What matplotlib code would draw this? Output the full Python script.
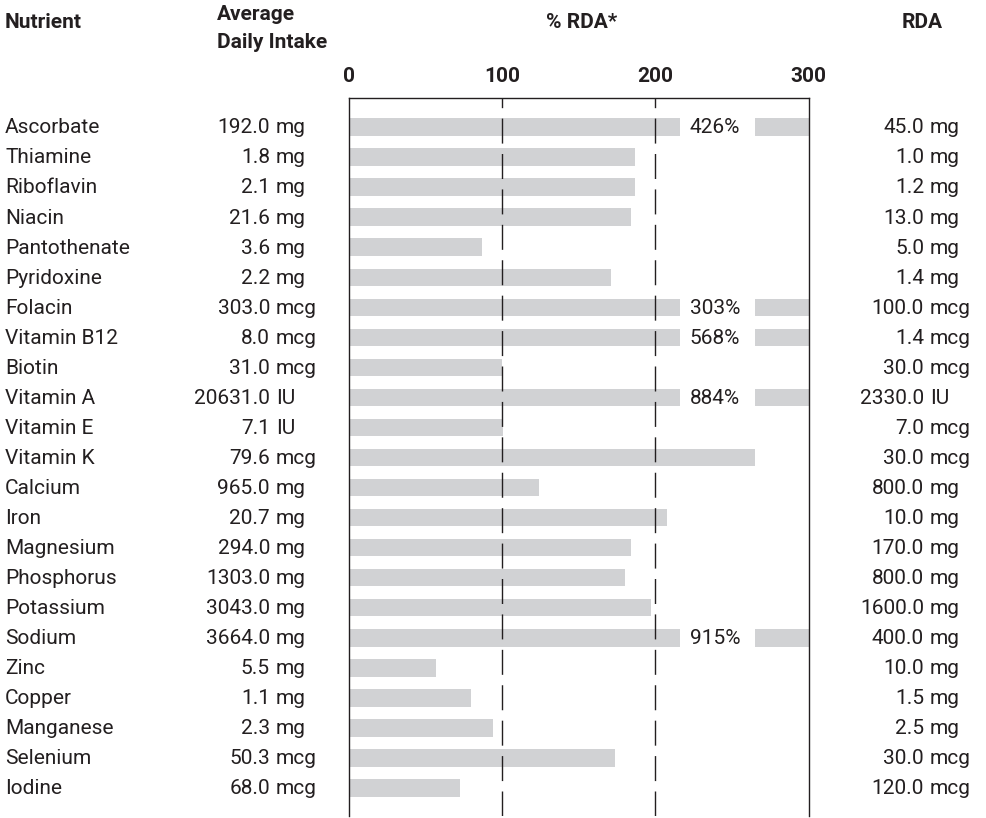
import matplotlib.pyplot as plt
from matplotlib import transforms

plt.rcParams['font.family'] = ['Roboto', 'DejaVu Sans']

# Table data
nutrients = ['Ascorbate', 'Thiamine', 'Riboflavin', 'Niacin', 'Pantothenate',
             'Pyridoxine', 'Folacin', 'Vitamin B12', 'Biotin', 'Vitamin A',
             'Vitamin E', 'Vitamin K', 'Calcium', 'Iron', 'Magnesium',
             'Phosphorus', 'Potassium', 'Sodium', 'Zinc', 'Copper',
             'Manganese', 'Selenium', 'Iodine']
intake_vals = [192.0, 1.8, 2.1, 21.6, 3.6, 2.2, 303.0, 8.0, 31.0, 20631.0,
               7.1, 79.6, 965.0, 20.7, 294.0, 1303.0, 3043.0, 3664.0, 5.5,
               1.1, 2.3, 50.3, 68.0]
intake_units = ['mg', 'mg', 'mg', 'mg', 'mg', 'mg', 'mcg', 'mcg', 'mcg', 'IU',
                'IU', 'mcg', 'mg', 'mg', 'mg', 'mg', 'mg', 'mg', 'mg', 'mg',
                'mg', 'mcg', 'mcg']
rda_vals = [45.0, 1.0, 1.2, 13.0, 5.0, 1.4, 100.0, 1.4, 30.0, 2330.0, 7.0,
            30.0, 800.0, 10.0, 170.0, 800.0, 1600.0, 400.0, 10.0, 1.5, 2.5,
            30.0, 120.0]
rda_units = ['mg', 'mg', 'mg', 'mg', 'mg', 'mg', 'mcg', 'mcg', 'mcg', 'IU',
             'mcg', 'mcg', 'mg', 'mg', 'mg', 'mg', 'mg', 'mg', 'mg', 'mg',
             'mg', 'mcg', 'mcg']
# % RDA as drawn (values above 300 are cut and labelled)
pct_rda = [426, 187, 187, 184, 87, 171, 303, 568, 100, 884, 101, 265, 124,
           208, 184, 180, 197, 915, 57, 80, 94, 174, 73]
ticks = [0, 100, 200, 300]

W, H = 986, 818
txt = '#231f20'
bar_col = '#d1d2d4'
fs = 15

fig = plt.figure(figsize=(W / 100, H / 100), dpi=100)
top_px, bot_px = 97.7, 816
ax = fig.add_axes([348.5 / W, 1 - bot_px / H, 460 / W, (bot_px - top_px) / H])

n = len(nutrients)
ax.set_xlim(0, 300)
ax.set_ylim(n - 1 + 0.93, -0.975)

for i, v in enumerate(pct_rda):
    if v > 300:
        ax.barh(i, 216.5, height=0.58, color=bar_col, zorder=1)
        ax.barh(i, 300 - 265, left=265, height=0.58, color=bar_col, zorder=1)
        ax.text(239, i + 0.03, f'{v}%', ha='center', va='center', fontsize=fs,
                color=txt)
    else:
        ax.barh(i, v, height=0.58, color=bar_col, zorder=1)

for x in [100, 200]:
    ax.axvline(x, color=txt, linewidth=1.0, dashes=(18, 7.5), zorder=2)

for s in ['left', 'right', 'top']:
    ax.spines[s].set_color(txt)
    ax.spines[s].set_linewidth(1.0)
ax.spines['bottom'].set_visible(False)
ax.set_xticks([])
ax.set_yticks([])

# text columns: x in pixels, y in data rows
tr = transforms.blended_transform_factory(fig.dpi_scale_trans, ax.transData)
dy = 0.03
for i in range(n):
    y = i + dy
    ax.text(5 / 100, y, nutrients[i], transform=tr, ha='left', va='center',
            fontsize=fs, color=txt, clip_on=False)
    ax.text(270 / 100, y, f'{intake_vals[i]:.1f}', transform=tr, ha='right',
            va='center', fontsize=fs, color=txt, clip_on=False)
    ax.text(276 / 100, y, intake_units[i], transform=tr, ha='left',
            va='center', fontsize=fs, color=txt, clip_on=False)
    ax.text(924 / 100, y, f'{rda_vals[i]:.1f}', transform=tr, ha='right',
            va='center', fontsize=fs, color=txt, clip_on=False)
    ax.text(930 / 100, y, rda_units[i], transform=tr, ha='left',
            va='center', fontsize=fs, color=txt, clip_on=False)

# headers
def head(x, y, s, ha='left'):
    fig.text(x / W, 1 - y / H, s, ha=ha, va='center', fontsize=fs,
             fontweight='bold', color=txt)

head(5, 22, 'Nutrient')
head(217, 14, 'Average')
head(217, 42, 'Daily Intake')
head(582, 22, '% RDA*', ha='center')
head(922, 22, 'RDA', ha='center')
for t in ticks:
    x_px = 348.5 + t * 460 / 300
    head(x_px, 76, str(t), ha='center')

fig.savefig('out.png', dpi=100)
